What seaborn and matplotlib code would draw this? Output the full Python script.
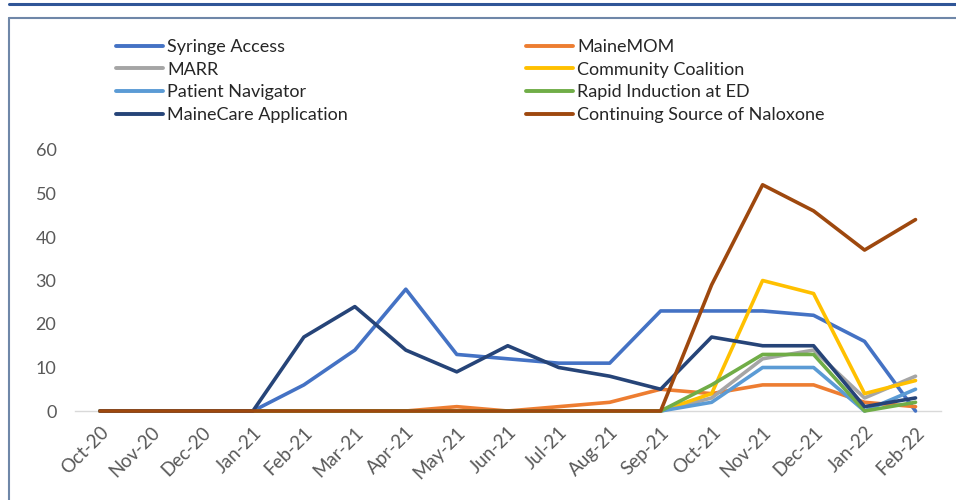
import matplotlib
matplotlib.use("Agg")
import matplotlib.pyplot as plt
import seaborn as sns
import pandas as pd
from matplotlib.lines import Line2D

months = ["Oct-20", "Nov-20", "Dec-20", "Jan-21", "Feb-21", "Mar-21", "Apr-21",
          "May-21", "Jun-21", "Jul-21", "Aug-21", "Sep-21", "Oct-21", "Nov-21",
          "Dec-21", "Jan-22", "Feb-22"]

syringe_access = [0, 0, 0, 0, 6, 14, 28, 13, 12, 11, 11, 23, 23, 23, 22, 16, 0]
maine_mom = [0, 0, 0, 0, 0, 0, 0, 1, 0, 1, 2, 5, 4, 6, 6, 2, 1]
marr = [0, 0, 0, 0, 0, 0, 0, 0, 0, 0, 0, 0, 3, 12, 14, 3, 8]
community_coalition = [0, 0, 0, 0, 0, 0, 0, 0, 0, 0, 0, 0, 4, 30, 27, 4, 7]
patient_navigator = [0, 0, 0, 0, 0, 0, 0, 0, 0, 0, 0, 0, 2, 10, 10, 0, 5]
rapid_induction = [0, 0, 0, 0, 0, 0, 0, 0, 0, 0, 0, 0, 6, 13, 13, 0, 2]
mainecare_app = [0, 0, 0, 0, 17, 24, 14, 9, 15, 10, 8, 5, 17, 15, 15, 1, 3]
naloxone = [0, 0, 0, 0, 0, 0, 0, 0, 0, 0, 0, 0, 29, 52, 46, 37, 44]

series_names = ["Syringe Access", "MaineMOM", "MARR", "Community Coalition",
                "Patient Navigator", "Rapid Induction at ED",
                "MaineCare Application", "Continuing Source of Naloxone"]
series_values = [syringe_access, maine_mom, marr, community_coalition,
                 patient_navigator, rapid_induction, mainecare_app, naloxone]
colors = ["#4472C4", "#ED7D31", "#A5A5A5", "#FFC000", "#5B9BD5", "#70AD47",
          "#264478", "#9E480E"]

rows = []
for name, vals in zip(series_names, series_values):
    for i, v in enumerate(vals):
        rows.append({"x": i, "month": months[i], "value": v, "series": name})
df = pd.DataFrame(rows)

sns.set_theme(style="white")
plt.rcParams["font.family"] = ["Lato", "DejaVu Sans"]

W, H = 956, 500
fig = plt.figure(figsize=(W / 100, H / 100), dpi=100)

# decorative frame lines
fig.add_artist(Line2D([9 / W, 1], [1 - 3.5 / H, 1 - 3.5 / H], color="#2F5597",
                      lw=2.2, transform=fig.transFigure))
fig.add_artist(Line2D([8.5 / W, 1], [1 - 18 / H, 1 - 18 / H], color="#6F87A8",
                      lw=1.5, transform=fig.transFigure))
fig.add_artist(Line2D([8.5 / W, 8.5 / W], [0, 1 - 18 / H], color="#6F87A8",
                      lw=1.5, transform=fig.transFigure))

ax_left, ax_right = 74.5 / W, 941 / W
ax_bottom, ax_top = (H - 411) / H, (H - 150) / H
ax = fig.add_axes([ax_left, ax_bottom, ax_right - ax_left, ax_top - ax_bottom])

palette = dict(zip(series_names, colors))
sns.lineplot(data=df, x="x", y="value", hue="series", hue_order=series_names,
             palette=palette, linewidth=2.6, ax=ax, legend=False, clip_on=False,
             solid_capstyle="round")

ax.set_xlim(-0.5, len(months) - 0.5)
ax.set_ylim(0, 60)
ax.set_yticks(range(0, 61, 10))
ax.set_xticks(range(len(months)))
ax.set_xticklabels(months, rotation=45, ha="right", rotation_mode="anchor",
                   color="#595959", fontsize=13.5)
ax.tick_params(axis="y", labelsize=13, labelcolor="#595959", length=0, pad=13)
ax.tick_params(axis="x", length=0, pad=9)
# minor ticks between categories
ax.set_xticks([i + 0.5 for i in range(-1, len(months))], minor=True)
ax.tick_params(axis="x", which="minor", length=5, color="#D9D9D9", width=1,
               direction="out")
ax.set_xlabel("")
ax.set_ylabel("")
for s in ["top", "right", "left"]:
    ax.spines[s].set_visible(False)
ax.spines["bottom"].set_color("#D9D9D9")
ax.spines["bottom"].set_linewidth(1)
ax.spines["bottom"].set_zorder(0)

# legend (row-wise order in two columns)
order = [0, 2, 4, 6, 1, 3, 5, 7]
handles = [Line2D([0], [0], color=colors[i], lw=2.8) for i in order]
labels = [series_names[i] for i in order]
fig.legend(handles, labels, ncol=2, loc="upper left",
           bbox_to_anchor=(107 / W, 1 - 30 / H), frameon=False, fontsize=13,
           handlelength=2.6, handletextpad=0.22, columnspacing=9.9,
           labelspacing=0.37, borderpad=0, labelcolor="#262626")

fig.savefig("out.png", dpi=100)
